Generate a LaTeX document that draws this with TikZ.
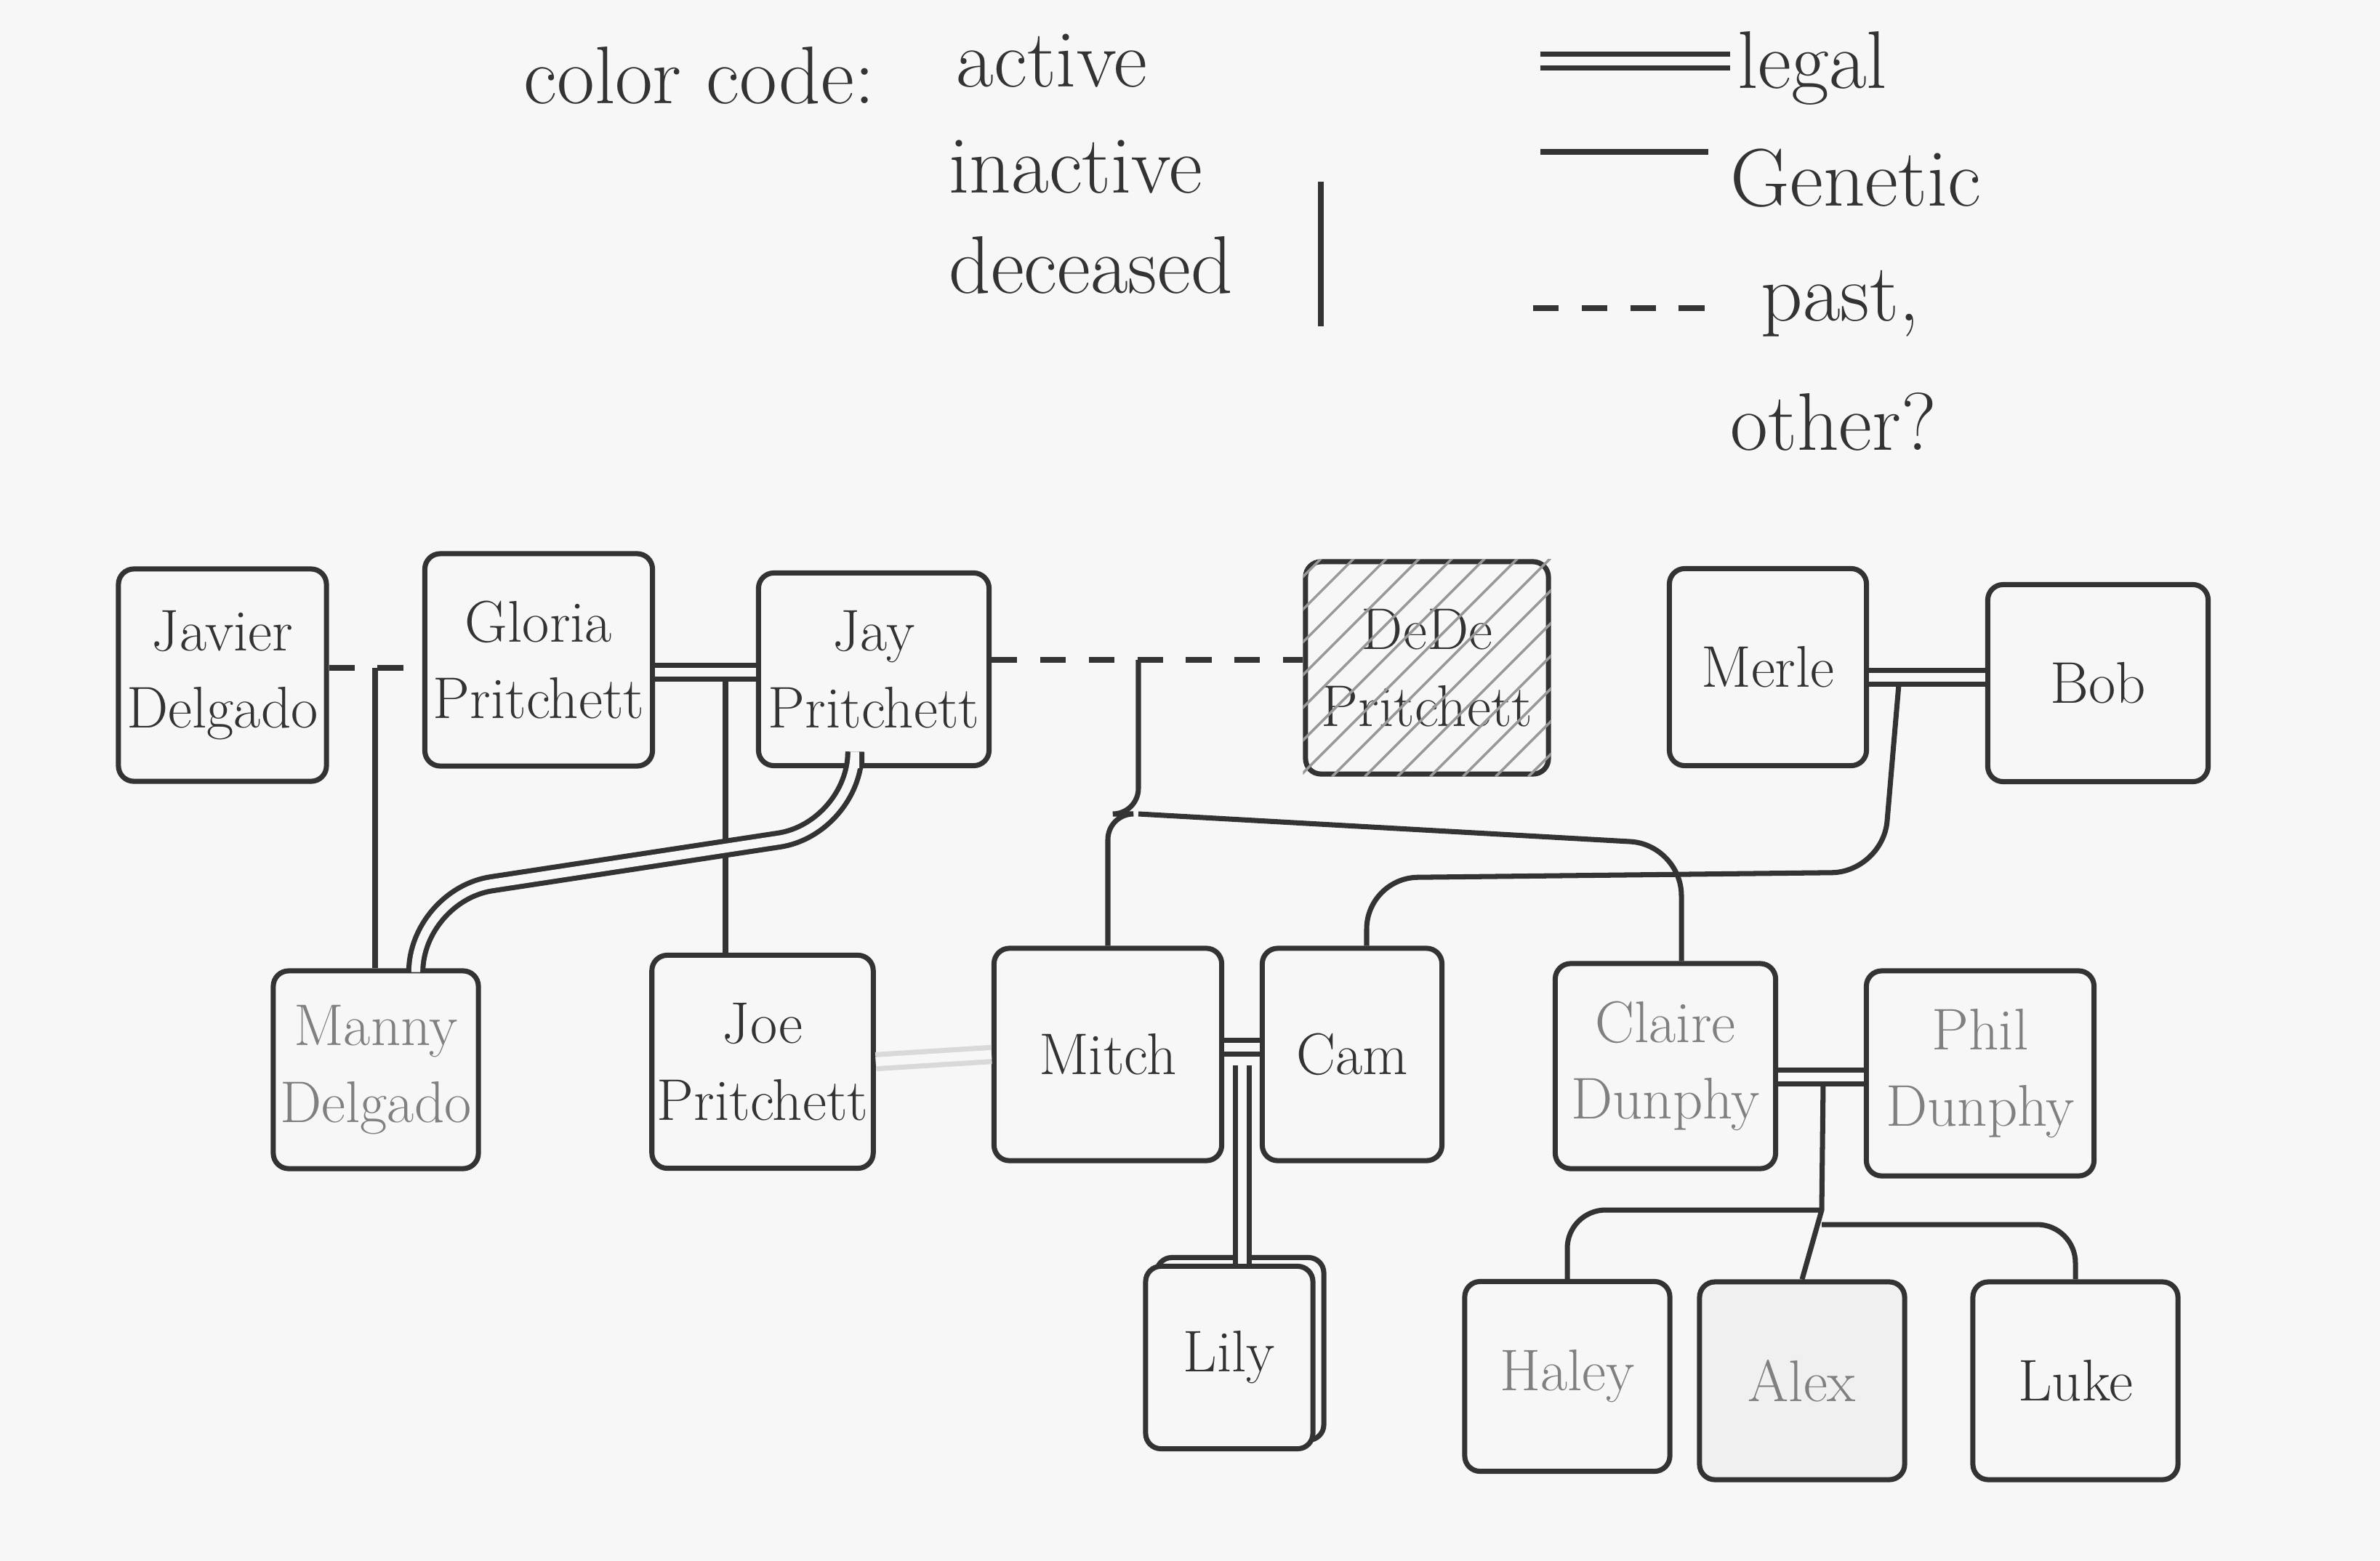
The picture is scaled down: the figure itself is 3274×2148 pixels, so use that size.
\documentclass[tikz,border=0pt]{standalone}
\usepackage{tikz}
\usetikzlibrary{calc}

\tikzset{
  person/.style={draw=black!80,line width=2pt,rounded corners=6pt,align=center,text=black!80,inner sep=2pt,font=\fontsize{23}{30}\selectfont},
  faded/.style={text=black!50},
  legend/.style={text=black!80,inner sep=0pt,font=\fontsize{32}{36}\selectfont},
  legal/.style={draw=black!80,double=black!3,double distance=3.5pt,line width=2pt},
  genetic/.style={draw=black!80,line width=2pt},
  past/.style={draw=black!80,line width=2pt,dash pattern=on 10pt off 9pt},
}

\begin{document}
\begin{tikzpicture}[x=0.01cm,y=-0.01cm]
\fill[black!3] (0,0) rectangle (3274,2148);
\useasboundingbox (0,0) rectangle (3274,2148);

% key
\node (colorcode) at (720,104)[legend,anchor=west] {color code:};
\node (active) at (1315,84)[legend,anchor=west] {active};
\node (inactive) at (1305,230)[legend,anchor=west] {inactive};
\node (deceased) at (1305,365)[legend,anchor=west] {deceased};
\draw[genetic] (1817,250) -- (1817,449);
\node (legalkey) at (2390,94)[legend,anchor=west] {legal};
\node (genetickey) at (2380,245)[legend,anchor=west] {Genetic};
\node (pastkey) at (2422,418)[legend,anchor=west] {past,};
\node (otherkey) at (2380,580)[legend,anchor=west] {other?};
\coordinate (legalstart) at (2119,84);
\coordinate (geneticstart) at (2119,209);
\coordinate (paststart) at (2109,424);
\draw[legal] (legalstart) -- ([xshift=-0.1cm]legalstart -| legalkey.west);
\draw[genetic] (geneticstart) -- ([xshift=-0.3cm]geneticstart -| genetickey.west);
\draw[past] (paststart) -- ([xshift=-0.6cm]paststart -| pastkey.west);

% people
\node (Javier) at (306,929)[person,minimum width=2.86cm,minimum height=2.92cm] {Javier\\Delgado};
\node (Gloria) at (741,908)[person,minimum width=3.13cm,minimum height=2.92cm] {Gloria\\Pritchett};
\node (Jay) at (1202,921)[person,minimum width=3.17cm,minimum height=2.65cm] {Jay\\Pritchett};
\node (DeDe) at (1963,919)[person,minimum width=3.34cm,minimum height=2.92cm] {DeDe\\Pritchett};
\node (Merle) at (2432,918)[person,minimum width=2.71cm,minimum height=2.71cm] {Merle};
\node (Bob) at (2886,940)[person,minimum width=3.03cm,minimum height=2.71cm] {Bob};
\node (Manny) at (517,1472)[person,faded,minimum width=2.82cm,minimum height=2.72cm] {Manny\\Delgado};
\node (Joe) at (1049,1461)[person,minimum width=3.03cm,minimum height=2.93cm] {Joe\\Pritchett};
\node (Mitch) at (1524,1451)[person,minimum width=3.13cm,minimum height=2.92cm] {Mitch};
\node (Cam) at (1860,1451)[person,minimum width=2.47cm,minimum height=2.92cm] {Cam};
\node (Claire) at (2291,1467)[person,faded,minimum width=3.03cm,minimum height=2.82cm] {Claire\\Dunphy};
\node (Phil) at (2724,1477)[person,faded,minimum width=3.13cm,minimum height=2.82cm] {Phil\\Dunphy};
\node (Lilyback) at (1706,1856)[person,minimum width=2.3cm,minimum height=2.51cm] {};
\node (Lily) at (1691,1868)[person,fill=black!3,minimum width=2.3cm,minimum height=2.51cm] {Lily};
\node (Haley) at (2156,1894)[person,faded,minimum width=2.82cm,minimum height=2.61cm] {Haley};
\node (Alex) at (2479,1900)[person,faded,fill=black!6,minimum width=2.82cm,minimum height=2.72cm] {Alex};
\node (Luke) at (2855,1900)[person,minimum width=2.82cm,minimum height=2.72cm] {Luke};

% deceased hatching
\begin{scope}
\clip (DeDe.south west) rectangle (DeDe.north east);
\foreach \d in {-320,-275,...,340}
  \draw[black!40,line width=1pt] ($(DeDe.south west)+(\d,0)$) -- ++(420,-420);
\end{scope}

% junctions
\coordinate (jgsplit) at (516,919);
\coordinate (gjsplit) at (998,925);
\coordinate (jayturn) at (1176,1140);
\coordinate (mannyturn) at (572,1232);
\coordinate (jdsplit) at (1566,908);
\coordinate (kidsplit) at (1566,1120);
\coordinate (claireturn) at (2313,1162);
\coordinate (mbsplit) at (2612,932);
\coordinate (mbturn) at (2590,1200);
\coordinate (camturn) at (1880,1208);
\coordinate (mcsplit) at (1709,1441);
\coordinate (cpsplit) at (2508,1482);
\coordinate (dunsplit) at (2506,1665);
\coordinate (lukesplit) at (2506,1685);

% relations
\draw[past] (Javier.east |- jgsplit) -- (Gloria.west |- jgsplit);
\draw[genetic] (jgsplit) -- (jgsplit |- Manny.north);
\draw[legal] (Gloria.east |- gjsplit) -- (Jay.west |- gjsplit);
\draw[genetic] ([yshift=-0.1cm]gjsplit) -- (gjsplit |- Joe.north);
\draw[legal,rounded corners=30pt] (Jay.south -| jayturn) -- (jayturn) -- (mannyturn) -- (mannyturn |- Manny.north);
\draw[past] (Jay.east |- jdsplit) -- (DeDe.west |- jdsplit);
\draw[genetic,rounded corners=10pt] (jdsplit) -- (kidsplit) -| (Mitch.north);
\draw[genetic,rounded corners=20pt] (kidsplit) -- (claireturn) -- (claireturn |- Claire.north);
\draw[legal] (Merle.east |- mbsplit) -- (Bob.west |- mbsplit);
\draw[genetic,rounded corners=20pt] ([yshift=-0.1cm]mbsplit) -- (mbturn) -- (camturn) -- (camturn |- Cam.north);
\draw[legal,draw=black!15] (Joe.east) -- (Mitch.west);
\draw[legal] (Mitch.east |- mcsplit) -- (Cam.west |- mcsplit);
\draw[legal] ([yshift=-0.25cm]mcsplit) -- (mcsplit |- Lily.north);
\draw[legal] (Claire.east |- cpsplit) -- (Phil.west |- cpsplit);
\draw[genetic] ([yshift=-0.1cm]cpsplit) -- (dunsplit) -- (Alex.north);
\draw[genetic,rounded corners=15pt] (dunsplit) -| (Haley.north);
\draw[genetic,rounded corners=15pt] (lukesplit) -| (Luke.north);
\end{tikzpicture}
\end{document}
